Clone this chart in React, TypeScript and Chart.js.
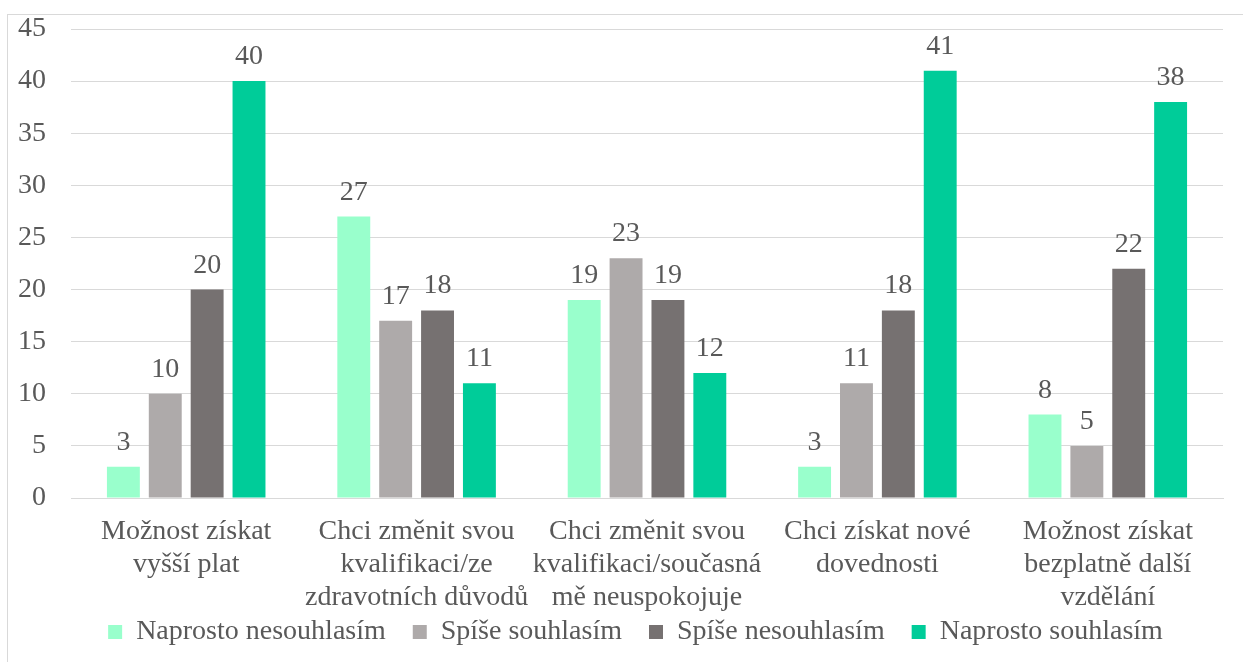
import React, { useEffect, useRef } from "react";
import { Chart, registerables } from "chart.js";

Chart.register(...registerables);

const categories: string[][] = [
  ["Možnost získat", "vyšší plat"],
  ["Chci změnit svou", "kvalifikaci/ze", "zdravotních důvodů"],
  ["Chci změnit svou", "kvalifikaci/současná", "mě neuspokojuje"],
  ["Chci získat nové", "dovednosti"],
  ["Možnost získat", "bezplatně další", "vzdělání"],
];

const seriesNames = [
  "Naprosto nesouhlasím",
  "Spíše souhlasím",
  "Spíše nesouhlasím",
  "Naprosto souhlasím",
];

const naprostoNesouhlasim = [3, 27, 19, 3, 8];
const spiseSouhlasim = [10, 17, 23, 11, 5];
const spiseNesouhlasim = [20, 18, 19, 18, 22];
const naprostoSouhlasim = [40, 11, 12, 41, 38];

const seriesColors = ["#99FFCC", "#AEAAAA", "#767171", "#00CC99"];

const yTicks = { min: 0, max: 45, step: 5 };

const FONT = "'Liberation Serif', 'Times New Roman', serif";
const TEXT = "#595959";

const frame = {
  id: "frame",
  beforeDraw(chart: any) {
    const ctx = chart.ctx;
    ctx.save();
    ctx.fillStyle = "#ffffff";
    ctx.fillRect(0, 0, chart.width, chart.height);
    ctx.strokeStyle = "#D9D9D9";
    ctx.lineWidth = 1;
    ctx.strokeRect(7.5, 14.5, 1400, 1000);
    ctx.restore();
  },
};

const legendPlace = {
  id: "legendPlace",
  afterLayout(chart: any) {
    const lg = chart.legend;
    if (!lg) return;
    lg.top = 591;
    lg.bottom = 662;
    lg.height = 71;
    lg.left += 17;
    lg.right += 17;
  },
};

const valueLabels = {
  id: "valueLabels",
  afterDatasetsDraw(chart: any) {
    const ctx = chart.ctx;
    ctx.save();
    ctx.font = `28px ${FONT}`;
    ctx.fillStyle = TEXT;
    ctx.textAlign = "center";
    ctx.textBaseline = "alphabetic";
    chart.data.datasets.forEach((ds: any, i: number) => {
      const meta = chart.getDatasetMeta(i);
      meta.data.forEach((bar: any, j: number) => {
        ctx.fillText(String(ds.data[j]), bar.x, bar.y - 17);
      });
    });
    ctx.restore();
  },
};

export default function App() {
  const ref = useRef<HTMLCanvasElement>(null);

  useEffect(() => {
    if (!ref.current) return;
    const seriesData = [naprostoNesouhlasim, spiseSouhlasim, spiseNesouhlasim, naprostoSouhlasim];
    const chart = new Chart(ref.current, {
      type: "bar",
      data: {
        labels: categories,
        datasets: seriesNames.map((name, i) => ({
          label: name,
          data: seriesData[i],
          backgroundColor: seriesColors[i],
          borderWidth: 0,
          categoryPercentage: 0.727,
          barPercentage: 0.786,
        })),
      },
      options: {
        responsive: false,
        animation: false,
        layout: { padding: { left: 14, right: 20, top: 29, bottom: 0 } },
        plugins: {
          legend: {
            position: "bottom",
            maxHeight: 49,
            labels: {
              font: { family: FONT, size: 28 },
              color: TEXT,
              boxWidth: 14,
              boxHeight: 14,
              padding: 27,
            },
          },
          tooltip: { enabled: false },
        },
        scales: {
          x: {
            grid: { display: false, drawTicks: false },
            border: { color: "#D9D9D9", width: 1 },
            ticks: {
              font: { family: FONT, size: 28, lineHeight: 1.18 },
              color: TEXT,
              maxRotation: 0,
              autoSkip: false,
              padding: 17,
            },
            afterFit(scale: any) {
              scale.height = 115;
            },
          },
          y: {
            min: yTicks.min,
            max: yTicks.max,
            grid: { color: "#D9D9D9", lineWidth: 1, drawTicks: false },
            border: { display: false },
            ticks: {
              stepSize: yTicks.step,
              font: { family: FONT, size: 28 },
              color: TEXT,
              padding: 25,
            },
            afterFit(scale: any) {
              scale.width = 57;
              scale.paddingTop = 0;
              scale.paddingBottom = 0;
            },
          },
        },
      },
      plugins: [frame, legendPlace, valueLabels],
    });
    return () => chart.destroy();
  }, []);

  return (
    <div style={{ position: "fixed", left: 0, top: 0, width: 1243, height: 662 }}>
      <canvas ref={ref} width={1243} height={662} />
    </div>
  );
}
